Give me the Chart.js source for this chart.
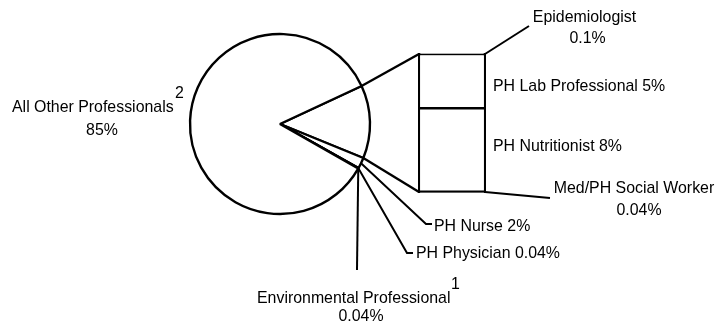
<!DOCTYPE html>
<html><head><meta charset="utf-8">
<script src="https://cdn.jsdelivr.net/npm/chart.js@4/dist/chart.umd.min.js"></script>
<style>
html,body{margin:0;padding:0;background:#fff;width:718px;height:323px;overflow:hidden}
canvas{position:absolute;left:0;top:0}
</style></head><body>
<canvas id="pie" width="718" height="323"></canvas>
<canvas id="bar" width="718" height="323"></canvas>
<script>
// ---- data ----
const barCategories = ['Med/PH Social Worker', 'PH Nutritionist', 'PH Lab Professional', 'Epidemiologist'];
const barValues = [0.04, 8, 5, 0.1];
const barValueText = ['0.04%', '8%', '5%', '0.1%'];
const pieCategories = ['PH Nurse', 'PH Physician', 'Environmental Professional', 'All Other Professionals'];
const pieValues = [2, 0.04, 0.04, 85];
const pieValueText = ['2%', '0.04%', '0.04%', '85%'];

const barTotal = barValues.reduce((a, b) => a + b, 0);
const FONT = '15.9px "Liberation Sans", Arial, sans-serif';

// ---- pie chart ----
const pieChart = new Chart(document.getElementById('pie'), {
  type: 'pie',
  data: {
    labels: ['Other'].concat(pieCategories),
    datasets: [{
      data: [barTotal].concat(pieValues),
      backgroundColor: '#ffffff',
      borderColor: '#000000',
      borderWidth: 2.4,
      borderJoinStyle: 'bevel'
    }]
  },
  options: {
    responsive: false,
    animation: false,
    devicePixelRatio: 1,
    rotation: 65,
    radius: 90,
    layout: { padding: { left: 0, right: 158, top: 0, bottom: 75 } },
    plugins: { legend: { display: false }, tooltip: { enabled: false } },
    events: []
  }
});

// ---- labels & connectors ----
const labelPlugin = {
  id: 'pieBarLabels',
  afterDraw(chart) {
    const ctx = chart.ctx;
    const arcs = pieChart.getDatasetMeta(0).data;
    const bars = chart.data.datasets.map((d, i) => chart.getDatasetMeta(i).data[0]);
    const w = bars[0].width;
    const left = bars[0].x - w / 2, right = bars[0].x + w / 2;
    const top = bars[bars.length - 1].y, bottom = bars[0].base;
    const edge = (arc, a) => [arc.x + arc.outerRadius * Math.cos(a), arc.y + arc.outerRadius * Math.sin(a)];
    const mid = arc => (arc.startAngle + arc.endAngle) / 2;
    const poly = (pts, lw) => {
      ctx.beginPath();
      ctx.moveTo(pts[0][0], pts[0][1]);
      for (let i = 1; i < pts.length; i++) ctx.lineTo(pts[i][0], pts[i][1]);
      ctx.lineWidth = lw; ctx.strokeStyle = '#000'; ctx.lineCap = 'butt'; ctx.lineJoin = 'miter';
      ctx.stroke();
    };
    ctx.save();
    // pie-to-bar connectors
    poly([edge(arcs[0], arcs[0].startAngle), [left + 1, top + 1]], 2.4);
    poly([edge(arcs[0], arcs[0].endAngle), [left + 1, bottom - 1]], 2.4);
    // leaders
    poly([edge(arcs[1], mid(arcs[1])), [426, 224], [432, 224]], 2);
    poly([edge(arcs[2], mid(arcs[2])), [407, 253], [413, 253]], 2);
    poly([edge(arcs[3], mid(arcs[3])), [357, 270]], 2);
    poly([[right - 1, top + 1], [529, 26]], 2);
    poly([[right - 1, bottom - 1], [550, 198]], 2);

    ctx.fillStyle = '#000';
    ctx.font = FONT;
    ctx.textBaseline = 'alphabetic';
    const txt = (s, x, y, align) => { ctx.textAlign = align || 'left'; ctx.fillText(s, x, y); };
    // bar labels
    txt(barCategories[3], 584.5, 22, 'center');
    txt(barValueText[3], 587.5, 43, 'center');
    txt(barCategories[2] + ' ' + barValueText[2], 493, 91);
    txt(barCategories[1] + ' ' + barValueText[1], 493, 151);
    txt(barCategories[0], 634, 193, 'center');
    txt(barValueText[0], 639, 215, 'center');
    // pie labels
    txt(pieCategories[0] + ' ' + pieValueText[0], 434, 231);
    txt(pieCategories[1] + ' ' + pieValueText[1], 416, 258);
    txt(pieCategories[2], 257, 303);
    txt('1', 451, 289);
    txt(pieValueText[2], 361, 321, 'center');
    txt(pieCategories[3], 12, 112);
    txt('2', 175, 98);
    txt(pieValueText[3], 102, 135, 'center');
    ctx.restore();
  }
};

// ---- bar chart (stacked) ----
const barBorders = [
  { borderWidth: 2.4, borderSkipped: false },
  { borderWidth: 2.4, borderSkipped: false },
  { borderWidth: { left: 2.4, right: 2.4, top: 1.4, bottom: 0 }, borderSkipped: false },
  { borderWidth: 2.4, borderSkipped: false }
];
const barChart = new Chart(document.getElementById('bar'), {
  type: 'bar',
  data: {
    labels: [''],
    datasets: barCategories.map((name, i) => Object.assign({
      label: name,
      data: [barValues[i]],
      backgroundColor: '#ffffff',
      borderColor: '#000000',
      categoryPercentage: 1,
      barPercentage: 1
    }, barBorders[i]))
  },
  options: {
    responsive: false,
    animation: false,
    devicePixelRatio: 1,
    layout: { padding: { left: 418, right: 232, top: 53, bottom: 130 } },
    scales: {
      x: { stacked: true, display: false },
      y: { stacked: true, display: false, min: 0, max: barTotal, grace: 0 }
    },
    plugins: { legend: { display: false }, tooltip: { enabled: false } },
    events: []
  },
  plugins: [labelPlugin]
});
</script>
</body></html>
